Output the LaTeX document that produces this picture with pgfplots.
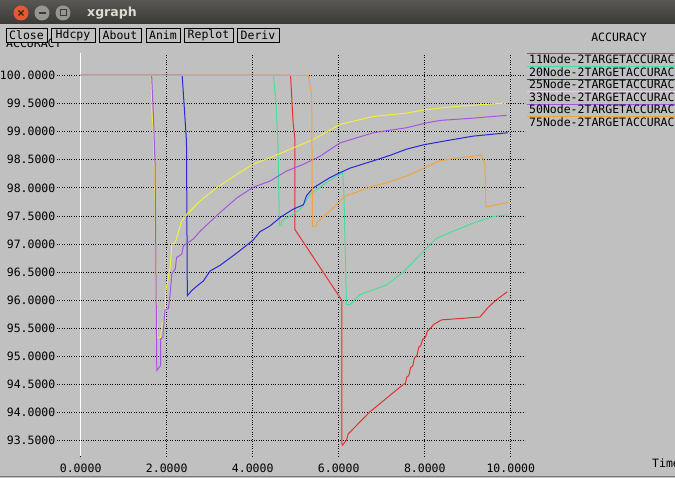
\documentclass[border=0pt]{standalone}
\usepackage{fontspec}
\usepackage{pgfplots}
\pgfplotsset{compat=1.18}
\setmainfont{DejaVu Sans Mono}
\newfontfamily\xmono{DejaVu Sans Mono}
\newfontfamily\titlefont{DejaVu Sans}
\definecolor{bg}{RGB}{192,192,192}
\definecolor{tbtop}{RGB}{88,87,83}
\definecolor{tbbot}{RGB}{58,57,53}
\definecolor{closered}{RGB}{226,90,50}
\definecolor{closex}{RGB}{60,30,20}
\definecolor{wbtn}{RGB}{150,149,144}
\definecolor{wsym}{RGB}{60,59,55}
\definecolor{ttext}{RGB}{223,219,210}
\definecolor{edge}{RGB}{120,120,120}
\definecolor{cred}{RGB}{225,50,50}
\definecolor{cgreen}{RGB}{70,225,150}
\definecolor{cblue}{RGB}{40,40,215}
\definecolor{cyellow}{RGB}{240,240,60}
\definecolor{cpurple}{RGB}{165,85,225}
\definecolor{corange}{RGB}{240,165,60}
\newcommand{\xf}{\xmono\fontsize{11.5}{12}\selectfont}
\begin{document}
\begin{tikzpicture}[x=1pt,y=1pt]
\clip (0,0) rectangle (675,478);
\fill[bg] (0,0) rectangle (675,478);
% title bar
\shade[top color=tbtop, bottom color=tbbot] (0,454) rectangle (675,478);
\fill[closered] (21,465) circle (7.5);
\draw[closex, line width=1.2pt] (18.5,462.5) -- (23.5,467.5) (18.5,467.5) -- (23.5,462.5);
\fill[wbtn] (42,465) circle (7.5);
\draw[wsym, line width=1.2pt] (38.5,465) -- (45.5,465);
\fill[wbtn] (63,465) circle (7.5);
\draw[wsym, line width=1pt] (60,462) rectangle (66,468);
\node[anchor=west, inner sep=0pt, text=ttext] at (87,465) {\titlefont\bfseries\fontsize{12.5}{13}\selectfont xgraph};
% y title partly hidden
\node[anchor=west, inner sep=0pt] at (6,435) {\xf ACCURACY};
% buttons
\foreach \a/\b/\t in {6/47/Close, 51/95/Hdcpy, 99/141/About, 146/180/Anim, 184/233/Replot, 237/279/Deriv}{
  \filldraw[fill=bg, draw=black, line width=0.8pt] (\a,436) rectangle (\b,450);
  \node[inner sep=0pt, text=black] at ({(\a+\b)/2},443) {\xf \t};
}
% legend
\node[inner sep=0pt] at (619,441) {\xf ACCURACY};
\draw[cred, line width=1pt] (527,424) -- (675,424);
\draw[cgreen, line width=1pt] (527,411.4) -- (675,411.4);
\draw[cblue, line width=1pt] (527,398.8) -- (675,398.8);
\draw[cyellow, line width=1pt] (527,386.2) -- (675,386.2);
\draw[cpurple, line width=1pt] (527,373.6) -- (675,373.6);
\draw[corange, line width=1pt] (527,361) -- (675,361);
\node[anchor=west, inner sep=0pt] at (529,418.3) {\xf 11Node-2TARGETACCURACY};
\node[anchor=west, inner sep=0pt] at (529,405.8) {\xf 20Node-2TARGETACCURACY};
\node[anchor=west, inner sep=0pt] at (529,393.3) {\xf 25Node-2TARGETACCURACY};
\node[anchor=west, inner sep=0pt] at (529,380.8) {\xf 33Node-2TARGETACCURACY};
\node[anchor=west, inner sep=0pt] at (529,368.3) {\xf 50Node-2TARGETACCURACY};
\node[anchor=west, inner sep=0pt] at (529,355.8) {\xf 75Node-2TARGETACCURACY};
\node[anchor=west, inner sep=0pt] at (652,15) {\xf Time};
\draw[edge, line width=1.5pt] (0,1.5) -- (675,1.5);
\begin{axis}[
  at={(57pt,22pt)}, anchor=south west, scale only axis,
  width=468pt, height=403pt,
  xmin=-0.55, xmax=10.33, ymin=93.227, ymax=100.4,
  axis line style={draw=none}, major tick length=0pt,
  xtick={0,2,4,6,8,10}, ytick={93.5,94,94.5,95,95.5,96,96.5,97,97.5,98,98.5,99,99.5,100},
  grid=major, grid style={black, dotted, line width=0.7pt},
  tick label style={font=\xf},
  /pgf/number format/assume math mode=true,
  /pgf/number format/.cd, fixed, fixed zerofill, precision=4, 1000 sep={},
  /pgfplots/.cd,
  yticklabel style={anchor=east, inner xsep=1.5pt},
  xticklabel style={anchor=north, yshift=-4pt},
  every axis plot/.append style={line width=1pt, no marks, sharp plot},
  clip=false,
]
\draw[white, line width=1.2pt] (axis cs:0,93.227) -- (axis cs:0,100.4);
% 11Node red
\addplot[cred] coordinates {(0,100) (4.88,100) (4.94,99.15) (4.98,98.88) (4.98,97.26) (6.07,96.00) (6.07,93.45) (6.09,93.42) (6.18,93.51) (6.22,93.62) (6.72,94.01) (7.50,94.50) (7.55,94.52) (7.58,94.63) (7.63,94.66) (7.67,94.80) (7.72,94.83) (7.76,94.97) (7.82,95.02) (7.86,95.16) (7.91,95.20) (7.95,95.30) (8.02,95.35) (8.06,95.45) (8.12,95.49) (8.21,95.57) (8.39,95.65) (9.28,95.70) (9.35,95.76) (9.47,95.87) (9.67,96.01) (9.92,96.15)};
% 20Node green
\addplot[cgreen] coordinates {(0,100) (4.48,100) (4.54,99.54) (4.59,98.71) (4.62,97.33) (4.67,97.33) (4.67,97.41) (4.94,97.53) (5.14,97.65) (5.33,97.88) (5.60,98.03) (5.95,98.21) (6.09,98.27) (6.12,97.88) (6.18,95.92) (6.26,95.92) (6.49,96.10) (7.11,96.27) (7.50,96.50) (7.89,96.81) (8.27,97.10) (8.70,97.24) (9.12,97.37) (9.59,97.49) (9.92,97.52)};
% 25Node blue
\addplot[cblue] coordinates {(0,100) (2.36,100) (2.40,99.54) (2.43,99.18) (2.46,98.83) (2.48,96.08) (2.58,96.17) (2.70,96.25) (2.85,96.34) (3.01,96.52) (3.24,96.62) (3.63,96.84) (4.01,97.07) (4.17,97.22) (4.40,97.32) (4.65,97.48) (4.94,97.62) (5.18,97.70) (5.25,97.86) (5.41,98.00) (5.79,98.18) (6.03,98.27) (6.26,98.35) (6.80,98.48) (7.20,98.58) (7.58,98.69) (8.00,98.77) (8.51,98.84) (9.12,98.92) (9.93,98.98)};
% 33Node yellow
\addplot[cyellow] coordinates {(0,100) (1.64,100) (1.66,99.31) (1.69,99.01) (1.71,98.42) (1.73,97.68) (1.78,95.34) (1.86,95.34) (1.89,95.58) (1.96,95.64) (1.98,96.17) (2.08,96.58) (2.12,97.00) (2.20,97.03) (2.35,97.41) (2.47,97.53) (2.78,97.77) (3.16,98.00) (3.63,98.24) (4.01,98.42) (4.48,98.56) (4.94,98.71) (5.41,98.86) (6.03,99.13) (6.80,99.27) (7.58,99.33) (8.00,99.39) (8.74,99.45) (9.90,99.51)};
% 50Node purple
\addplot[cpurple] coordinates {(0,100) (1.65,100) (1.69,99.30) (1.73,98.42) (1.77,94.75) (1.86,94.84) (1.86,95.31) (1.91,95.34) (1.96,95.82) (2.04,95.85) (2.08,96.11) (2.12,96.47) (2.20,96.56) (2.23,96.76) (2.35,96.82) (2.39,96.97) (2.62,97.09) (2.78,97.23) (3.24,97.56) (3.63,97.82) (4.01,98.01) (4.40,98.12) (4.79,98.30) (5.18,98.42) (5.56,98.56) (6.03,98.80) (6.80,98.98) (7.58,99.07) (8.00,99.15) (8.35,99.20) (9.12,99.24) (9.90,99.29)};
% 75Node orange
\addplot[corange] coordinates {(0,100) (5.29,100) (5.37,99.66) (5.39,97.32) (5.49,97.32) (5.49,97.38) (5.60,97.46) (5.68,97.51) (5.99,97.73) (6.14,97.85) (6.80,98.03) (7.11,98.09) (7.58,98.21) (8.00,98.36) (8.35,98.48) (8.74,98.53) (9.32,98.58) (9.40,98.41) (9.42,97.66) (9.94,97.74)};
\end{axis}
\end{tikzpicture}
\end{document}
